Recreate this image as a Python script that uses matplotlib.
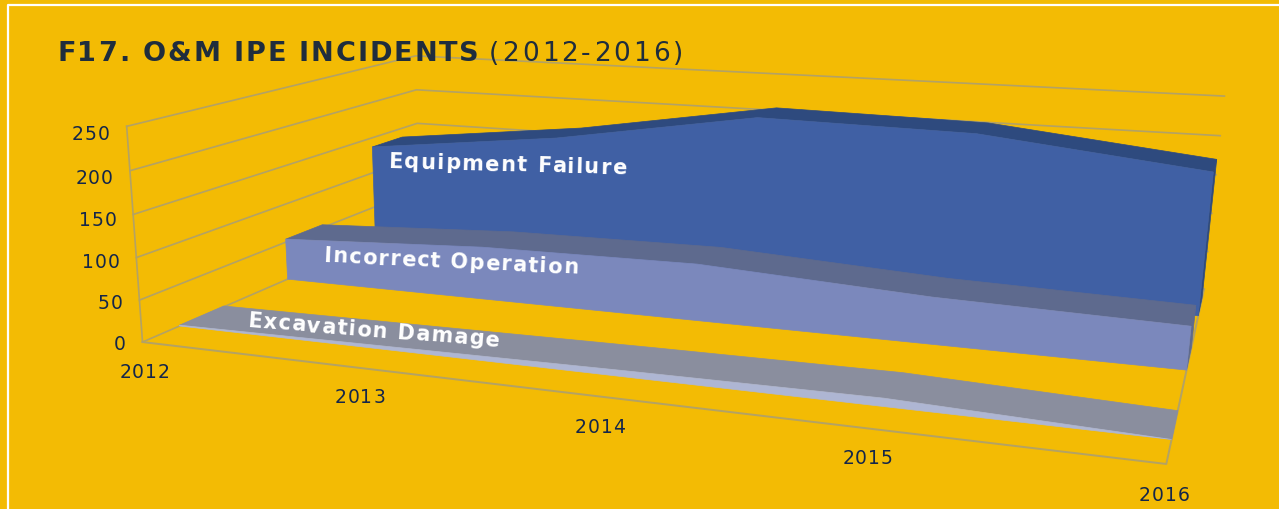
import numpy as np
from matplotlib import pyplot as plt
from matplotlib.font_manager import FontProperties
from matplotlib.patches import Polygon

years = ["2012", "2013", "2014", "2015", "2016"]
value_ticks = [0, 50, 100, 150, 200, 250]
equipment_failure = [137, 167, 211, 207, 178]
incorrect_operation = [54, 67, 70, 56, 50]
excavation_damage = [1, 4, 7, 9, 0]

BG = "#F3BB04"
GRID = "#B3A265"
TICK_COLOR = "#14264A"
TITLE_COLOR = "#1F2D3D"

# calibration of the perspective: (along, depth, height) -> pixel, all in 0..1
calib_3d = [(0, 0, 0), (0, 0, 1), (0, 1, 0), (0, 1, 0.8), (0, 1, 0.6), (1, 1, 1), (1, 1, 0.8),
            (1, 0, 0), (1, 1, 0), (0.25, 0, 0), (0.5, 0, 0), (0.75, 0, 0)]
calib_px = [(143, 342), (125, 130), (418, 224), (418, 90), (418, 123), (1224, 97), (1220, 136),
            (1168, 464), (1204, 292), (361, 369), (600, 397), (866, 429)]


def fit_camera(pts3, pts2):
    rows = []
    rhs = []
    for (a, d, h), (u, v) in zip(pts3, pts2):
        rows.append([a, d, h, 1, 0, 0, 0, 0, -u * a, -u * d, -u * h])
        rhs.append(u)
        rows.append([0, 0, 0, 0, a, d, h, 1, -v * a, -v * d, -v * h])
        rhs.append(v)
    sol = np.linalg.lstsq(np.array(rows, float), np.array(rhs, float), rcond=None)[0]
    return np.append(sol, 1.0).reshape(3, 4)


camera = fit_camera(calib_3d, calib_px)


def project(i, depth, value):
    # i = position of the year, depth 0 front..1 back, value on the y axis
    p = camera @ np.array([i / (len(years) - 1), depth, value / value_ticks[-1], 1.0])
    return p[0] / p[2], p[1] / p[2]


def draw_area(ax, values, d_front, d_back, face, top):
    n = len(values)
    # top face
    pts = [project(i, d_front, values[i]) for i in range(n)]
    pts += [project(i, d_back, values[i]) for i in reversed(range(n))]
    ax.add_patch(Polygon(pts, closed=True, facecolor=top, edgecolor=top, lw=0.5, zorder=3))
    # right side
    pts = [project(n - 1, d_front, 0), project(n - 1, d_back, 0),
           project(n - 1, d_back, values[-1]), project(n - 1, d_front, values[-1])]
    ax.add_patch(Polygon(pts, closed=True, facecolor=top, edgecolor=top, lw=0.5, zorder=3))
    # front face
    pts = [project(i, d_front, values[i]) for i in range(n)]
    pts += [project(n - 1, d_front, 0), project(0, d_front, 0)]
    ax.add_patch(Polygon(pts, closed=True, facecolor=face, edgecolor=face, lw=0.5, zorder=3))


def spaced_text(ax, x, y, s, spacing, rotation=0, ha="left", **kw):
    # matplotlib has no letter spacing, so the characters go one by one
    renderer = ax.figure.canvas.get_renderer()
    prop = FontProperties(size=kw.get("fontsize"), weight=kw.get("fontweight", "normal"))

    def width(t):
        w = renderer.get_text_width_height_descent(t + "x", prop, False)[0]
        return w - renderer.get_text_width_height_descent("x", prop, False)[0]

    total = width(s) + spacing * (len(s) - 1)
    start = {"left": 0, "center": -total / 2, "right": -total}[ha]
    a = np.deg2rad(rotation)
    for k, ch in enumerate(s):
        off = start + width(s[:k]) + spacing * k
        # y axis points down, so a negative rotation moves down the picture
        ax.text(x + off * np.cos(a), y - off * np.sin(a), ch, ha="left", va="baseline",
                rotation=rotation, rotation_mode="anchor", zorder=5, **kw)


fig = plt.figure(figsize=(12.79, 5.10), dpi=100, facecolor=BG)
ax = fig.add_axes([0, 0, 1, 1])
ax.set_xlim(0, 1279)
ax.set_ylim(510, 0)
ax.axis("off")

# white frame, runs off the right and bottom of the picture
ax.plot([8, 8, 1279], [510, 6, 6], color="white", lw=1.6, zorder=1)

# walls and floor
last = len(years) - 1
for v in value_ticks:
    line = [project(0, 0, v), project(0, 1, v), project(last, 1, v)]
    ax.plot(*zip(*line), color=GRID, lw=1.2, zorder=1)
ax.plot(*zip(project(0, 0, 0), project(0, 0, 250)), color=GRID, lw=1.2, zorder=1)
ax.plot(*zip(project(0, 0, 0), project(last, 0, 0), project(last, 1, 0)), color=GRID, lw=1.4, zorder=1)

draw_area(ax, equipment_failure, 0.80, 0.93, "#4060A4", "#2E4A7E")
draw_area(ax, incorrect_operation, 0.455, 0.59, "#7B88BC", "#5E6A8E")
draw_area(ax, excavation_damage, 0.105, 0.24, "#AEB6D3", "#8A8E9E")

# tick labels
for v in value_ticks:
    x, y = project(0, 0, v)
    spaced_text(ax, x - 17, y + 7 + v * 0.024, str(v), 1.0, ha="right", fontsize=13.5, color=TICK_COLOR)
year_dx = [2, 0, 0, 0, -2]
year_dy = [35, 34, 35, 35, 36]
for i, year in enumerate(years):
    x, y = project(i, 0, 0)
    spaced_text(ax, x + year_dx[i], y + year_dy[i], year, 1.0, ha="center", fontsize=13.5, color=TICK_COLOR)

# title
spaced_text(ax, 57, 61, "F17. O&M IPE INCIDENTS", 1.9, fontsize=19.5, fontweight="bold", color=TITLE_COLOR)
spaced_text(ax, 489, 61, "(2012-2016)", 3.0, fontsize=19, color=TITLE_COLOR)

# series names lie on the areas
spaced_text(ax, 388, 168, "Equipment Failure", 1.45, rotation=-1.5, fontsize=15, fontweight="bold", color="white")
spaced_text(ax, 323, 262, "Incorrect Operation", 1.3, rotation=-2.7, fontsize=15, fontweight="bold", color="white")
spaced_text(ax, 247, 327, "Excavation Damage", 1.3, rotation=-4.5, fontsize=15, fontweight="bold", color="white")

fig.savefig("out.png", dpi=100, facecolor=BG)
plt.close(fig)
